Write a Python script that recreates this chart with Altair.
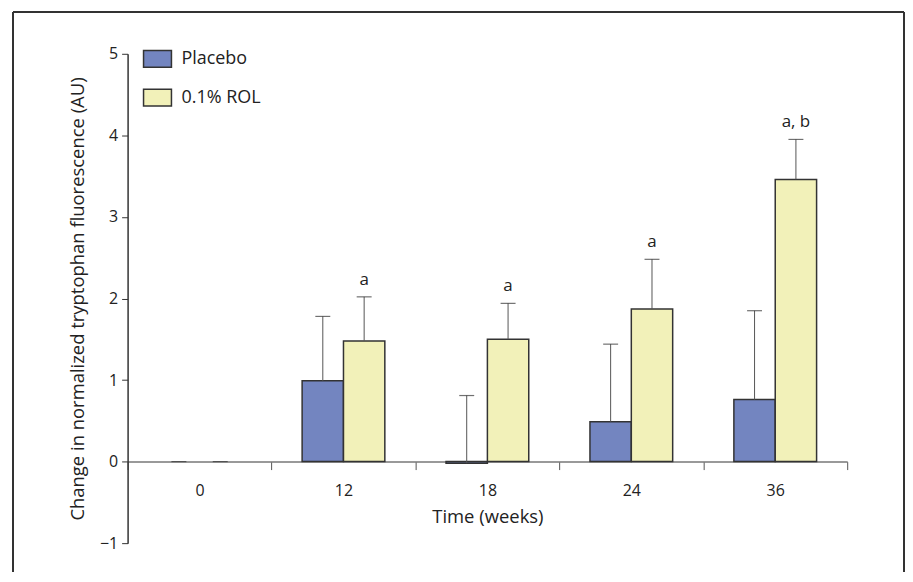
import altair as alt
import pandas as pd

weeks = ["0", "12", "18", "24", "36"]
groups = ["Placebo", "0.1% ROL"]
placebo_vals = [0.0, 0.99, -0.02, 0.49, 0.76]
placebo_err = [0.0, 1.78, 0.81, 1.44, 1.85]
rol_vals = [0.0, 1.48, 1.50, 1.87, 3.46]
rol_err = [0.0, 2.02, 1.94, 2.48, 3.95]
rol_letters = ["", "a", "a", "a", "a, b"]
colors = ["#7385C0", "#F2F1B9"]

rows = []
for i, w in enumerate(weeks):
    rows.append({"week": w, "group": groups[0], "value": placebo_vals[i],
                 "err": placebo_err[i], "label": ""})
    rows.append({"week": w, "group": groups[1], "value": rol_vals[i],
                 "err": rol_err[i], "label": rol_letters[i]})
df = pd.DataFrame(rows)

FONT = "Open Sans"
W, H = 722, 491

x = alt.X("week:N", sort=weeks, title="Time (weeks)",
          scale=alt.Scale(paddingInner=0, paddingOuter=0),
          axis=alt.Axis(offset=-H / 6, tickBand="extent", tickSize=8,
                        labelPadding=13, labelAngle=0, domainColor="#777",
                        domainWidth=1.5, tickColor="#555", tickWidth=1,
                        titlePadding=9))
xo = alt.XOffset("group:N", sort=groups,
                 scale=alt.Scale(paddingOuter=0.74, paddingInner=0))
yscale = alt.Scale(domain=[-1, 5], nice=False)

bars = alt.Chart(df).mark_bar(strokeWidth=1.5, stroke="#333").encode(
    x=x,
    xOffset=xo,
    y=alt.Y("value:Q", scale=yscale,
            title="Change in normalized tryptophan fluorescence (AU)",
            axis=alt.Axis(values=[v / 2 for v in range(-2, 11)],
                          labelExpr="datum.value % 1 == 0 ? datum.label : ''",
                          format="d", tickSize=6, tickColor="#333",
                          domainColor="#333", domainWidth=1.5, grid=False,
                          labelPadding=4, titlePadding=12)),
    fill=alt.Color("group:N", sort=groups,
                   scale=alt.Scale(domain=groups, range=colors),
                   legend=alt.Legend(title=None, orient="none", legendX=15,
                                     legendY=-10,
                                     symbolType="M-1,-0.6H1V0.6H-1Z",
                                     symbolSize=784, symbolStrokeWidth=1.5,
                                     symbolStrokeColor="#333",
                                     labelFontSize=18, labelFont=FONT,
                                     labelColor="#222", rowPadding=12,
                                     labelOffset=9)),
    strokeOpacity=alt.condition("datum.value == 0", alt.value(0), alt.value(1)),
)

err_line = alt.Chart(df).mark_rule(color="#555", strokeWidth=1).encode(
    x=alt.X("week:N", sort=weeks), xOffset=xo,
    y="value:Q", y2="err:Q")

caps = alt.Chart(df).mark_tick(color="#333", size=15, thickness=1.2).encode(
    x=alt.X("week:N", sort=weeks), xOffset=xo,
    y="err:Q")

letters = alt.Chart(df).mark_text(baseline="alphabetic", dy=-12, fontSize=17,
                                  font=FONT, color="#222").encode(
    x=alt.X("week:N", sort=weeks), xOffset=xo,
    y="err:Q", text="label:N")

frame = alt.Chart(df).mark_rule(color="#333", strokeWidth=1.5).encode(
    x=alt.value(-115), x2=alt.value(-115), y=alt.value(-42), y2=alt.value(520))
frame_top = alt.Chart(df).mark_rule(color="#333", strokeWidth=1.5).encode(
    x=alt.value(-115), x2=alt.value(779), y=alt.value(-42), y2=alt.value(-42))
frame_right = alt.Chart(df).mark_rule(color="#333", strokeWidth=1.5).encode(
    x=alt.value(779), x2=alt.value(779), y=alt.value(-42), y2=alt.value(520))

chart = alt.layer(bars, err_line, caps, letters, frame, frame_top, frame_right).properties(
    width=W, height=H, background="white",
    padding={"left": 4, "top": 2, "right": 0, "bottom": 0},
).configure_view(stroke=None).configure_axis(
    labelFont=FONT, titleFont=FONT, labelFontSize=16, titleFontSize=18.5,
    labelColor="#222", titleColor="#222", titleFontWeight="normal",
)

chart.save("out.html", embed_options={"renderer": "svg", "actions": False})
